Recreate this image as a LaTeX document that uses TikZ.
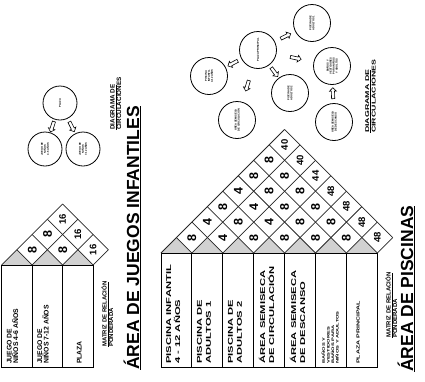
\documentclass[tikz,border=0pt]{standalone}
\usepackage{fontspec}
\setmainfont{Liberation Sans}
\newfontfamily\widefont{Liberation Sans}[FakeStretch=1.6]
\usetikzlibrary{shapes.arrows, calc}

\definecolor{roofgray}{gray}{0.82}
\definecolor{inkgray}{gray}{0.15}

\tikzset{
  colline/.style={draw=black, line width=1pt},
  gridline/.style={draw=inkgray, line width=0.75pt},
  cellnum/.style={rotate=90, inner sep=0pt, font=\bfseries\fontsize{12.5}{12.5}\selectfont},
  cellsum/.style={cellnum, font=\bfseries\fontsize{9.5}{9.5}\selectfont},
  bubble/.style={circle, draw, line width=0.8pt, minimum size=#1, inner sep=0pt, rotate=90,
    align=center, font=\bfseries\fontsize{2.6}{3}\selectfont},
  flowarrow/.style={single arrow, draw, fill=white, line width=0.6pt, minimum height=11pt,
    inner sep=1.3pt, single arrow head extend=1.8pt, sloped, allow upside down},
  title/.style={rotate=90, anchor=base west, inner sep=0pt, font=\bfseries\fontsize{17.5}{18}\selectfont},
  lcol/.style={rotate=90, anchor=north west, inner sep=0pt, align=left,
    font=\bfseries\fontsize{6.8}{6.5}\selectfont},
  rcol/.style={rotate=90, anchor=north west, inner sep=0pt, align=left,
    font=\widefont\bfseries\fontsize{7}{9}\selectfont},
  note/.style={rotate=90, anchor=north west, inner sep=0pt, align=left,
    font=\bfseries\fontsize{6}{6.5}\selectfont},
}

\begin{document}
\begin{tikzpicture}[x=1pt, y=-1pt]
  \useasboundingbox (0,0) rectangle (425,381);

  % ---- play area: relation matrix ----
  \def\lx{1.7} \def\lw{30.5} \def\lt{265} \def\lb{367}
  \foreach \m in {0,1,2} {
    \fill[roofgray] (\lx+\m*\lw,\lt) -- ++(\lw/2,-\lw/2) -- ++(\lw/2,\lw/2) -- cycle;
    \draw[colline] (\lx+\m*\lw,\lt) rectangle ++(\lw,\lb-\lt);
  }
  \foreach \m in {0,...,3}
    \draw[gridline] (\lx+\m*\lw,\lt) -- ++({(4-\m)*\lw/2},{-(4-\m)*\lw/2});
  \foreach \m in {1,...,3}
    \draw[gridline] (\lx+\m*\lw,\lt) -- ++({-\m*\lw/2},{-\m*\lw/2});
  \draw[gridline] (\lx+3.5*\lw,\lt-\lw/2) -- ++({-1.5*\lw},{-1.5*\lw});

  \foreach \i/\j/\v in {1/2/8, 2/3/8, 1/3/8}
    \node[cellnum] (l\i\j) at ({\lx+(\i+\j-1)*\lw/2},{\lt-(\j-\i)*\lw/2}) {\v};
  \foreach \i/\v in {1/16, 2/16, 3/16}
    \node[cellsum] (ls\i) at ({\lx+(\i+3)*\lw/2},{\lt-(4-\i)*\lw/2}) {\v};

  \node[lcol] (lc1) at (\lx+5,364) {JUEGO DE\\NIÑOS 4-6 AÑOS};
  \node[lcol] (lc2) at (\lx+\lw+5,364) {JUEGO DE\\NIÑOS 7-12 AÑOS};
  \node[lcol] (lc3) at (\lx+2*\lw+14,364) {PLAZA};

  \node[note] (lmat) at (101,347) {\underline{MATRIZ DE RELACIÓN}\\PONDERADA};
  \node[title] (tplay) at (139,370) {\underline{ÁREA DE JUEGOS INFANTILES}};

  % play area: circulation diagram
  \node[bubble=34pt] (plaza) at (60,103) {PLAZA};
  \node[bubble=34pt] (kids1) at (45,149) {JUEGO DE\\NIÑOS\\4-6 AÑOS};
  \node[bubble=34pt] (kids2) at (83,149) {JUEGO DE\\NIÑOS\\7-12 AÑOS};
  \path (plaza) -- node[flowarrow] (pk1) {} (kids1);
  \path (plaza) -- node[flowarrow] (pk2) {} (kids2);
  \node[note, font=\bfseries\fontsize{6.3}{6.5}\selectfont] (ldiag) at (110,130)
    {\underline{DIAGRAMA DE}\\CIRCULACIONES};

  % ---- pool area: relation matrix ----
  \def\rx{161} \def\rw{30.9} \def\rt{253} \def\rb{367}
  \foreach \m in {0,...,6} {
    \fill[roofgray] (\rx+\m*\rw,\rt) -- ++(\rw/2,-\rw/2) -- ++(\rw/2,\rw/2) -- cycle;
    \draw[colline] (\rx+\m*\rw,\rt) rectangle ++(\rw,\rb-\rt);
  }
  \foreach \m in {0,...,7}
    \draw[gridline] (\rx+\m*\rw,\rt) -- ++({(8-\m)*\rw/2},{-(8-\m)*\rw/2});
  \foreach \m in {1,...,7}
    \draw[gridline] (\rx+\m*\rw,\rt) -- ++({-\m*\rw/2},{-\m*\rw/2});
  \draw[gridline] (\rx+7.5*\rw,\rt-\rw/2) -- ++({-3.5*\rw},{-3.5*\rw});

  \foreach \i/\j/\v in {1/2/8, 2/3/4, 3/4/8, 4/5/8, 5/6/8, 6/7/8,
                        1/3/4, 2/4/8, 3/5/4, 4/6/8, 5/7/8,
                        1/4/8, 2/5/4, 3/6/8, 4/7/8,
                        1/5/4, 2/6/8, 3/7/8,
                        1/6/8, 2/7/8,
                        1/7/8}
    \node[cellnum] (r\i\j) at ({\rx+(\i+\j-1)*\rw/2},{\rt-(\j-\i)*\rw/2}) {\v};
  \foreach \i/\v in {1/40, 2/40, 3/44, 4/48, 5/48, 6/48, 7/48}
    \node[cellsum] (rs\i) at ({\rx+(\i+7)*\rw/2},{\rt-(8-\i)*\rw/2}) {\v};

  \foreach \m/\txt in {0/{PISCINA INFANTIL\\4 - 12 AÑOS}, 1/{PISCINA DE\\ADULTOS 1},
                       2/{PISCINA DE\\ADULTOS 2}, 3/{ÁREA SEMISECA\\DE CIRCULACIÓN},
                       4/{ÁREA SEMISECA\\DE DESCANSO}}
    \node[rcol] (rc\m) at (\rx+\m*\rw+5,364) {\txt};
  \node[rcol, font=\widefont\bfseries\fontsize{3.6}{4.6}\selectfont] (rc5) at (\rx+5*\rw+6,364)
    {BAÑOS Y\\VESTIDORES\\BAÑOS PARA\\NIÑOS Y ADULTOS};
  \node[rcol, font=\widefont\bfseries\fontsize{4.4}{5}\selectfont] (rc6) at (\rx+6*\rw+10,364)
    {PLAZA PRINCIPAL};

  \node[note] (rmat) at (385,338) {\underline{MATRIZ DE RELACIÓN}\\PONDERADA};
  \node[title] (tpool) at (413,372) {\underline{ÁREA DE PISCINAS}};

  % pool area: circulation diagram
  \node[bubble=37pt] (main) at (258,50) {PLAZA PRINCIPAL};
  \node[bubble=37pt] (adult1) at (312,23) {PISCINA DE\\ADULTOS 1};
  \node[bubble=37pt] (infant) at (209,76) {PISCINA\\INFANTIL\\4-12 AÑOS};
  \node[bubble=37pt] (circ) at (237,120) {ÁREA SEMISECA\\DE CIRCULACIÓN};
  \node[bubble=37pt] (adult2) at (290,93) {PISCINA DE\\ADULTOS 2};
  \node[bubble=37pt] (baths) at (332,66) {BAÑOS Y\\VESTIDORES\\PARA NIÑOS\\Y ADULTOS};
  \node[bubble=37pt] (rest) at (334,122) {ÁREA SEMISECA\\DE DESCANSO};
  \path (main) -- node[flowarrow] (ma1) {} (adult1);
  \path (main) -- node[flowarrow] (mb) {} (baths);
  \path (main) -- node[flowarrow] (mi) {} (infant);
  \path (main) -- node[flowarrow] (mc) {} (circ);
  \path (main) -- node[flowarrow] (ma2) {} (adult2);
  \path (rest) -- node[flowarrow] (rb) {} (baths);
  \node[note, font=\widefont\bfseries\fontsize{5.5}{6.5}\selectfont] (rdiag) at (365,133)
    {\underline{DIAGRAMA DE}\\CIRCULACIONES};
\end{tikzpicture}
\end{document}
